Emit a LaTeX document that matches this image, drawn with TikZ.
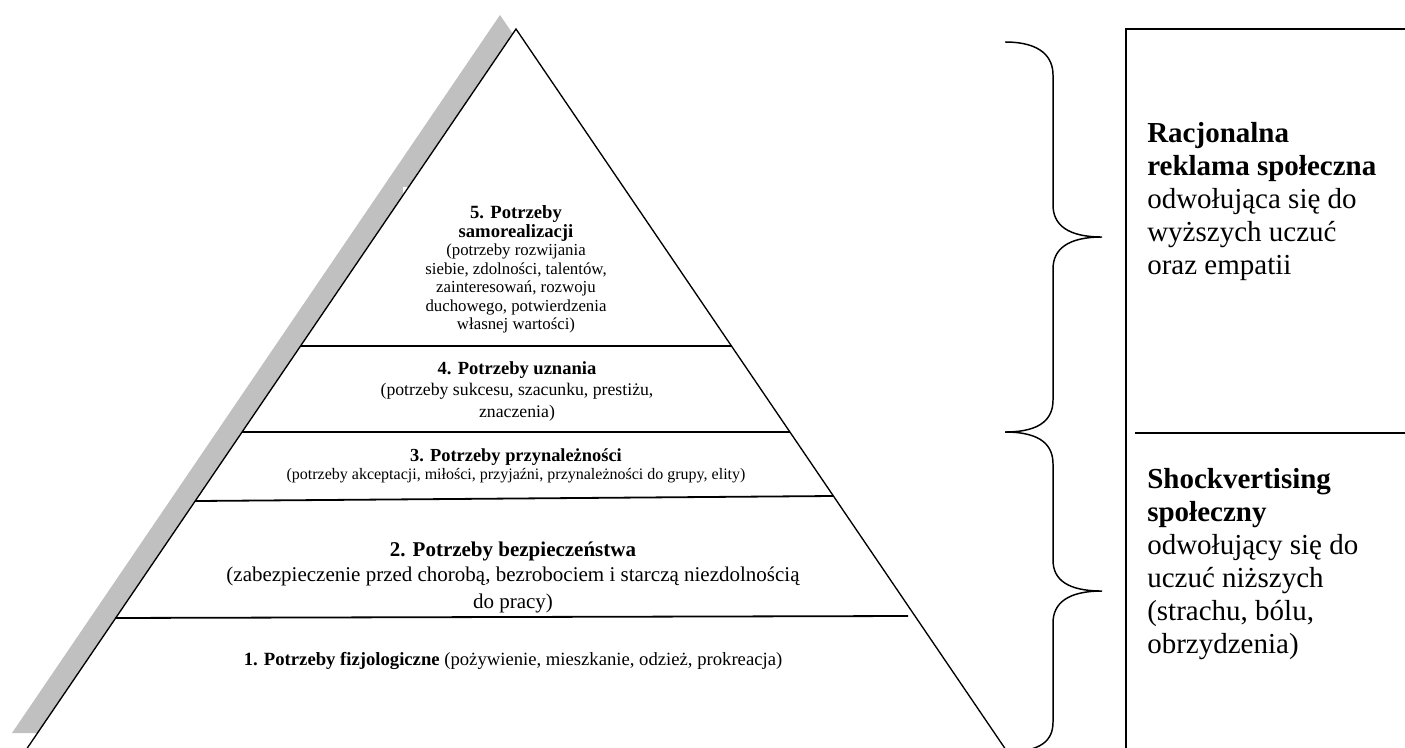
\documentclass[tikz,border=0pt]{standalone}
\usepackage{fontspec}
\setmainfont{Liberation Serif}
\usetikzlibrary{calc}
\definecolor{shadowgray}{RGB}{192,192,192}
\begin{document}
\begin{tikzpicture}[x=0.75pt,y=-0.75pt,
  edge/.style={line width=1pt,black},
  divider/.style={line width=1.35pt,black},
  bracestyle/.style={line width=1.1pt,black},
  boxline/.style={line width=1.2pt,black},
  lvl/.style={align=center,inner sep=0pt,anchor=north},
  side/.style={align=left,inner sep=0pt,anchor=north west,font=\fontsize{21.75}{24.75}\selectfont}]
\useasboundingbox (0,0) rectangle (1405,747);
% corners
\coordinate (apex) at (516,29);
\coordinate (bl) at (28,747);
\coordinate (br) at (1004,747);
% shadow
\fill[shadowgray] (500,15) -- (12,733) -- (988,733) -- cycle;
\fill[white] (apex) -- (bl) -- (br) -- cycle;
\fill[white] (403,187) rectangle (600,330);
\draw[edge] ($(apex)!1.01!(bl)$) -- (apex) -- ($(apex)!1.01!(br)$);
% dividers
\coordinate (d5l) at ($(apex)!0.4415!(bl)$);
\coordinate (d5r) at ($(apex)!0.4415!(br)$);
\coordinate (d4l) at ($(apex)!0.5613!(bl)$);
\coordinate (d4r) at ($(apex)!0.5613!(br)$);
\coordinate (d3l) at ($(apex)!0.6574!(bl)$);
\coordinate (d3r) at ($(apex)!0.6504!(br)$);
\coordinate (d2l) at ($(apex)!0.8203!(bl)$);
\coordinate (d2r) at (908,616);
\draw[divider] (d5l) -- (d5r);
\draw[divider] (d4l) -- (d4r);
\draw[divider] (d3l) -- (d3r);
\draw[divider] (d2l) -- (d2r);
% level texts
\node[lvl,font=\fontsize{12.6}{13.9}\selectfont] (l5) at (516,205.5)
  {{\fontsize{14}{13.9}\selectfont\textbf{5. Potrzeby}}\\ {\fontsize{14}{13.9}\selectfont\textbf{samorealizacji}}\\ (potrzeby rozwijania\\ siebie, zdolności, talentów,\\ zainteresowań, rozwoju\\ duchowego, potwierdzenia\\ własnej wartości)};
\node[lvl,font=\fontsize{13.3}{16.1}\selectfont] (l4) at (517,361)
  {{\fontsize{13.9}{16.1}\selectfont\textbf{4. Potrzeby uznania}}\\ (potrzeby sukcesu, szacunku, prestiżu,\\ znaczenia)};
\node[lvl,font=\fontsize{12}{13.5}\selectfont] (l3) at (516,448)
  {{\fontsize{13.8}{13.5}\selectfont\textbf{3. Potrzeby przynależności}}\\ (potrzeby akceptacji, miłości, przyjaźni, przynależności do grupy, elity)};
\node[lvl,font=\fontsize{15.75}{17.25}\selectfont] (l2) at (513,541.7)
  {\textbf{2. Potrzeby bezpieczeństwa}\\[1.5pt] (zabezpieczenie przed chorobą, bezrobociem i starczą niezdolnością\\[3pt] do pracy)};
\node[inner sep=0pt,anchor=base,font=\fontsize{14}{16}\selectfont] (l1) at (513,665)
  {\textbf{1. Potrzeby fizjologiczne} (pożywienie, mieszkanie, odzież, prokreacja)};
% braces
\draw[bracestyle] (1005,42) .. controls (1042,42) and (1053,58) .. (1053,75)
  -- (1053,205) .. controls (1053,225) and (1068,237) .. (1102,237)
  .. controls (1068,237) and (1053,249) .. (1053,269)
  -- (1053,400) .. controls (1053,418) and (1042,432) .. (1005,432);
\draw[bracestyle] (1005,432) .. controls (1042,432) and (1053,446) .. (1053,464)
  -- (1053,560) .. controls (1053,580) and (1068,591) .. (1102,591)
  .. controls (1068,591) and (1053,603) .. (1053,623)
  -- (1053,722) .. controls (1053,740) and (1042,752) .. (1005,752);
% box
\draw[boxline] (1126,760) -- (1126,29) -- (1410,29);
\draw[boxline] (1135,433) -- (1410,433);
\node[side] (rtop) at (1147,122.3)
  {\textbf{Racjonalna}\\ \textbf{reklama społeczna}\\ odwołująca się do\\ wyższych uczuć\\ oraz empatii};
\node[side] (rbot) at (1147,468.3)
  {\textbf{Shockvertising}\\ \textbf{społeczny}\\ odwołujący się do\\ uczuć niższych\\ (strachu, bólu,\\ obrzydzenia)};
\end{tikzpicture}
\end{document}
